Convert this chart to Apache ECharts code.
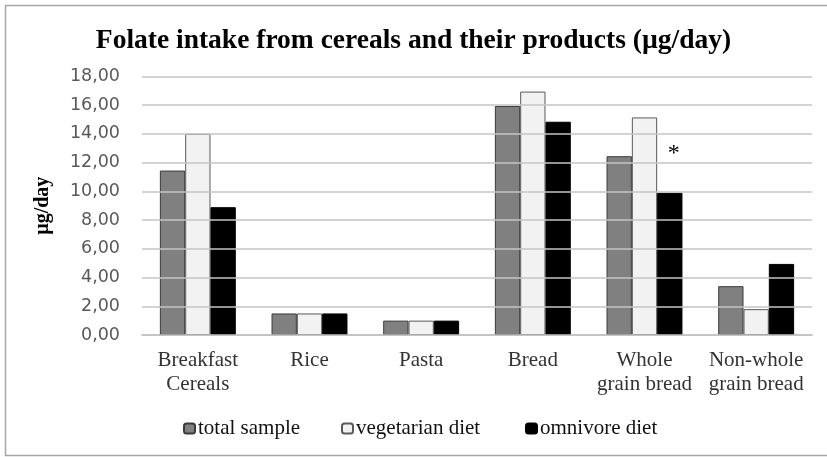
<!DOCTYPE html>
<html>
<head>
<meta charset="utf-8">
<script src="https://cdn.jsdelivr.net/npm/echarts@6/dist/echarts.min.js"></script>
<style>
  html, body { margin: 0; padding: 0; background: #fff; }
  #chart { width: 827px; height: 457px; }
</style>
</head>
<body>
<div id="chart"></div>
<script>
// Folate intake by food group and diet type (µg/day)
const categories = ['Breakfast\nCereals', 'Rice', 'Pasta', 'Bread', 'Whole\ngrain bread', 'Non-whole\ngrain bread'];
const totalSample = [11.45, 1.5, 1.0, 15.95, 12.45, 3.4];
const vegetarianDiet = [14.0, 1.5, 1.0, 16.95, 15.15, 1.8];
const omnivoreDiet = [8.9, 1.5, 1.0, 14.85, 9.9, 4.95];
const seriesNames = ['total sample', 'vegetarian diet', 'omnivore diet'];
// significant difference marker on whole grain bread
const markedIndex = 4;

const serif = '"Liberation Serif", "Times New Roman", serif';

const chart = echarts.init(document.getElementById('chart'), null, { renderer: 'canvas' });

const omnivoreData = omnivoreDiet.map((v, i) => i === markedIndex
  ? { value: v, label: { show: true, formatter: '*', position: 'top', distance: 27, fontSize: 24, fontFamily: serif, color: '#000', offset: [4, 0] } }
  : v);

// one legend block per series, spaced along the bottom
const legendLefts = [178, 336, 520];
const legends = seriesNames.map((n, i) => ({
  data: [n],
  left: legendLefts[i],
  top: 413,
  itemWidth: 11,
  itemHeight: 10,
  textStyle: { fontFamily: serif, fontSize: 21, color: '#111', padding: [0, 0, 0, -2] }
}));

chart.setOption({
  animation: false,
  backgroundColor: '#fff',
  title: {
    text: 'Folate intake from cereals and their products (µg/day)',
    left: 'center',
    top: 22,
    textStyle: { fontFamily: serif, fontWeight: 'bold', fontSize: 27.5, color: '#000' }
  },
  graphic: [{
    type: 'polyline',
    shape: { points: [[840, 5.5], [5.5, 5.5], [5.5, 455.5], [840, 455.5]] },
    style: { stroke: '#a6a6a6', lineWidth: 1.5, fill: null },
    silent: true
  }],
  legend: legends,
  grid: { left: 142, right: 15, top: 76.5, bottom: 122, containLabel: false },
  xAxis: {
    type: 'category',
    data: categories,
    axisLine: { show: true, lineStyle: { color: '#b0b0b0', width: 1.5 } },
    axisTick: { show: false },
    axisLabel: { fontFamily: serif, fontSize: 21, color: '#333', lineHeight: 24, margin: 13, interval: 0 }
  },
  yAxis: {
    type: 'value',
    min: 0,
    max: 18,
    interval: 2,
    z: 3,
    name: 'µg/day',
    nameLocation: 'middle',
    nameRotate: 90,
    nameGap: 89,
    nameTextStyle: { fontFamily: serif, fontWeight: 'bold', fontSize: 20, color: '#000' },
    axisLine: { show: false },
    axisTick: { show: false },
    axisLabel: {
      fontFamily: '"DejaVu Sans", sans-serif', fontSize: 17.5, color: '#595959', margin: 22,
      formatter: v => v.toFixed(2).replace('.', ',')
    },
    splitLine: { lineStyle: { color: '#c4c4c4', width: 1.5 } }
  },
  series: [
    {
      name: seriesNames[0], type: 'bar', data: totalSample,
      barGap: '0%', barCategoryGap: '32%',
      itemStyle: { color: '#808080', borderColor: '#3a3a3a', borderWidth: 1 }
    },
    {
      name: seriesNames[1], type: 'bar', data: vegetarianDiet,
      itemStyle: { color: '#f2f2f2', borderColor: '#595959', borderWidth: 1 }
    },
    {
      name: seriesNames[2], type: 'bar', data: omnivoreData,
      itemStyle: { color: '#000', borderColor: '#000', borderWidth: 1 }
    }
  ]
});
</script>
</body>
</html>
